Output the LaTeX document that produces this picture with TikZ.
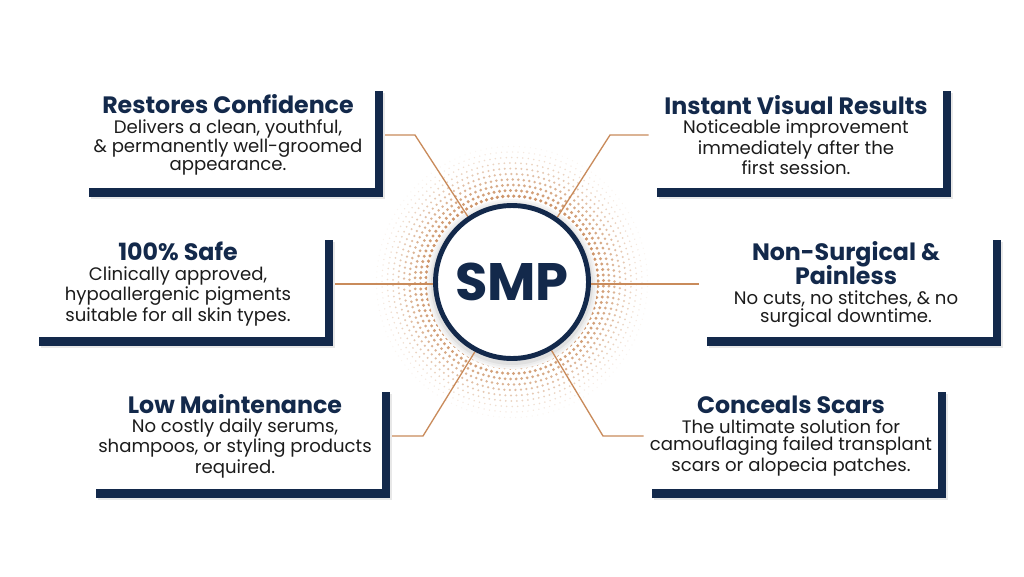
\documentclass[tikz,border=0pt]{standalone}
\usepackage{fontspec}
\setmainfont{Poppins}
\usetikzlibrary{calc,shadows,backgrounds}
\definecolor{navy}{HTML}{13294B}
\definecolor{copper}{HTML}{C98B5B}
\definecolor{ink}{HTML}{1C1C1C}
\newcommand{\cardtitle}[1]{{\color{navy}\fontsize{13.5}{15}\selectfont\bfseries #1}}

\begin{document}
\begin{tikzpicture}[x=0.02cm,y=-0.02cm]
	\tikzset{
		card/.style={fill=white, minimum width=5.88cm, minimum height=2.12cm, inner sep=2pt,
			align=center, text=ink, font=\fontsize{10.3}{10.1}\selectfont,
			general shadow={shadow xshift=5.5pt, shadow yshift=-6.5pt, fill=black!9},
			drop shadow={shadow xshift=4.5pt, shadow yshift=-5pt, fill=navy, opacity=1}},
		link/.style={copper, line width=0.75pt},
	}
	\useasboundingbox (0,0) rectangle (1024,576);
	
	% centre
	\node[circle, draw=navy, line width=2.8pt, fill=white, minimum size=3.06cm, inner sep=0pt,
		text=navy, font=\fontsize{30}{30}\selectfont\bfseries] (smp) at (512,282) {SMP};
	
	\begin{pgfonlayer}{background}
		\fill[white] (0,0) rectangle (1024,576);
		\foreach \r [count=\i] in {86,91.5,...,136}{
			\pgfmathtruncatemacro{\ndots}{2*pi*\r/5.5}
			\pgfmathsetmacro{\stepa}{360/\ndots}
			\pgfmathsetmacro{\dotr}{(1.9-0.13*\i)*0.57}
			\pgfmathtruncatemacro{\shade}{100-9*\i}
			\foreach \k in {1,...,\ndots}
				\fill[copper!\shade!white] (smp.center) ++({\stepa*\k+3*\i}:\r) circle (\dotr pt);
		}
		\foreach \g/\s in {85/4,83/7,81/12}
			\fill[black!\s] ($(smp.center)+(0,2)$) circle (\g*0.02cm);
	\end{pgfonlayer}
	
	% cards
	\node[card] (confidence) at (228,135) {\cardtitle{Restores Confidence}\\[1pt]
		Delivers a clean, youthful,\\ \& permanently well-groomed\\ appearance.};
	\node[card] (safe) at (178,284) {\cardtitle{100\% Safe}\\[1pt]
		Clinically approved,\\ hypoallergenic pigments\\ suitable for all skin types.};
	\node[card] (maint) at (235,436) {\cardtitle{Low Maintenance}\\[1pt]
		No costly daily serums,\\ shampoos, or styling products\\ required.};
	\node[card] (instant) at (796,135) {\cardtitle{Instant Visual Results}\\[1pt]
		Noticeable improvement\\ immediately after the\\ first session.};
	\node[card] (nonsurg) at (846,284) {\cardtitle{Non-Surgical \&}\\[-1.5pt]\cardtitle{Painless}\\[1pt]
		No cuts, no stitches, \& no\\ surgical downtime.};
	\node[card] (scars) at (791,436) {\cardtitle{Conceals Scars}\\[1pt]
		The ultimate solution for\\ camouflaging failed transplant\\ scars or alopecia patches.};
	
	\coordinate (bendA) at (415,135);
	\coordinate (bendB) at (610,135);
	\coordinate (bendC) at (423,436);
	\coordinate (bendD) at (603,436);
	
	\begin{pgfonlayer}{background}
		\draw[link] (confidence.east) -- (bendA) -- (smp.124);
		\draw[link] (instant.west) -- (bendB) -- (smp.55);
		\draw[link] (maint.east) -- (bendC) -- (smp.242);
		\draw[link] (scars.west) -- (bendD) -- (smp.300);
		\draw[link] (safe.east) -- (safe.east -| smp.center);
		\draw[link] (nonsurg.west) -- (nonsurg.west -| smp.center);
	\end{pgfonlayer}
	
\end{tikzpicture}
\end{document}
